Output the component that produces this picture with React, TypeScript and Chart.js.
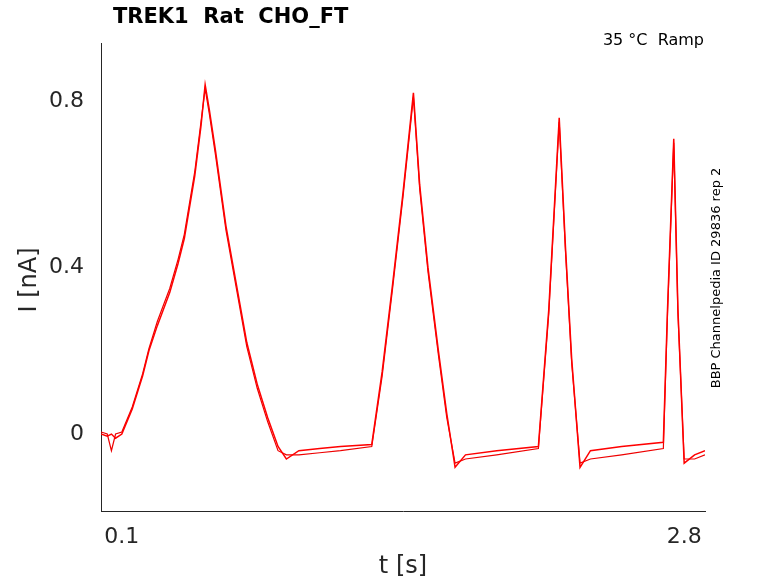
import React, { useEffect, useRef } from "react";
import { Chart, registerables } from "chart.js";
Chart.register(...registerables);

const tA = [0,0.03,0.05,0.07,0.1,0.15,0.2,0.23,0.27,0.3,0.33,0.37,0.4,0.45,0.48,0.5,0.52,0.55,0.6,0.65,0.7,0.75,0.8,0.85,0.89,0.95,1.05,1.15,1.3,1.35,1.4,1.45,1.5,1.53,1.57,1.62,1.66,1.7,1.75,1.9,2.1,2.15,2.2,2.23,2.26,2.3,2.35,2.5,2.7,2.72,2.75,2.77,2.8,2.85,2.9];
const iA = [0,-0.005,0.0,-0.01,0.0,0.06,0.14,0.2,0.26,0.3,0.34,0.41,0.47,0.62,0.74,0.84,0.78,0.68,0.5,0.36,0.22,0.12,0.04,-0.03,-0.06,-0.04,-0.035,-0.03,-0.025,0.15,0.36,0.58,0.82,0.6,0.4,0.2,0.05,-0.08,-0.05,-0.04,-0.03,0.3,0.76,0.45,0.18,-0.08,-0.04,-0.03,-0.02,0.3,0.71,0.3,-0.07,-0.05,-0.04];
const iB = [0.005,0.0,-0.04,0.0,0.005,0.065,0.145,0.205,0.27,0.31,0.35,0.42,0.48,0.63,0.75,0.83,0.77,0.67,0.49,0.35,0.21,0.11,0.03,-0.04,-0.05,-0.05,-0.045,-0.04,-0.03,0.14,0.35,0.57,0.81,0.59,0.39,0.19,0.04,-0.07,-0.06,-0.05,-0.035,0.29,0.75,0.44,0.17,-0.07,-0.06,-0.05,-0.035,0.29,0.7,0.29,-0.06,-0.06,-0.05];
const xTicks = [0.1, 2.8];
const yTicks = [0, 0.4, 0.8];

const font = "DejaVu Sans";

const textPlugin = {
  id: "texts",
  afterDraw(chart: any) {
    const c = chart.ctx;
    c.save();
    c.fillStyle = "#000";
    c.font = `bold 21px ${font}`;
    c.textBaseline = "middle";
    c.textAlign = "left";
    c.fillText("TREK1  Rat  CHO_FT", 113, 18);
    c.font = `16px ${font}`;
    c.textAlign = "right";
    c.fillText("35 °C  Ramp", 704, 41);
    c.fillStyle = "#262626";
    c.font = `24px ${font}`;
    c.textAlign = "center";
    c.fillText("t [s]", 403, 567);
    c.save();
    c.translate(30, 280);
    c.rotate(-Math.PI / 2);
    c.fillText("I [nA]", 0, 0);
    c.restore();
    c.fillStyle = "#000";
    c.font = `13px ${font}`;
    c.translate(717, 278);
    c.rotate(-Math.PI / 2);
    c.fillText("BBP Channelpedia ID 29836 rep 2", 0, 0);
    c.restore();
  },
};

export default function App() {
  const ref = useRef<HTMLCanvasElement>(null);
  useEffect(() => {
    const mk = (ys: number[]) => tA.map((t, i) => ({ x: t, y: ys[i] }));
    const ch = new Chart(ref.current!, {
      type: "line",
      data: {
        datasets: [
          { data: mk(iA), borderColor: "#ff0000", borderWidth: 1.5, pointRadius: 0, tension: 0 },
          { data: mk(iB), borderColor: "#ee0000", borderWidth: 1.2, pointRadius: 0, tension: 0 },
        ],
      },
      options: {
        animation: false,
        responsive: false,
        layout: { padding: { top: 43, right: 73, left: 0, bottom: 0 } },
        plugins: { legend: { display: false }, tooltip: { enabled: false } },
        scales: {
          x: {
            type: "linear", min: 0, max: 2.9,
            afterBuildTicks: (s: any) => { s.ticks = xTicks.map((v) => ({ value: v })); },
            afterFit: (s: any) => { s.height = 72; },
            grid: { display: false, drawTicks: false },
            border: { color: "#262626" },
            ticks: { padding: 13, color: "#262626", font: { family: font, size: 22 }, maxRotation: 0, callback: (v: any) => String(v) },
          },
          y: {
            type: "linear", min: -0.185, max: 0.94,
            afterBuildTicks: (s: any) => { s.ticks = yTicks.map((v) => ({ value: v })); },
            afterFit: (s: any) => { s.width = 101; },
            grid: { display: false, drawTicks: false },
            border: { color: "#262626" },
            ticks: { padding: 17, color: "#262626", font: { family: font, size: 22 }, callback: (v: any) => String(v) },
          },
        },
      },
      plugins: [textPlugin],
    });
    return () => ch.destroy();
  }, []);
  return (
    <canvas ref={ref} width={778} height={583} style={{ position: "fixed", left: 0, top: 0, background: "#fff" }} />
  );
}
